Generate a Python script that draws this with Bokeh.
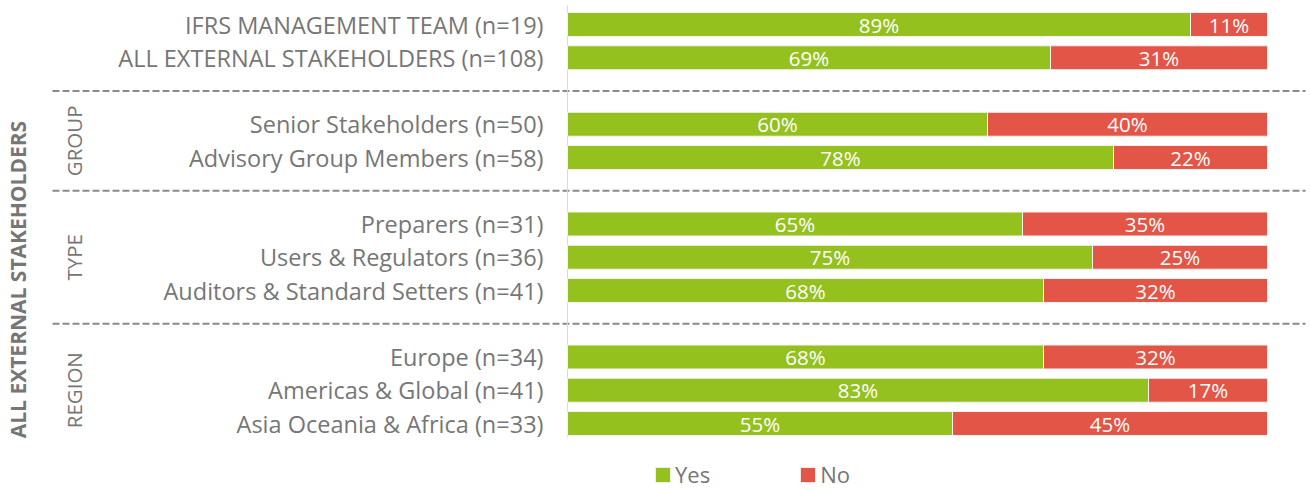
import math
from bokeh.plotting import figure
from bokeh.models import Range1d, ColumnDataSource, Legend, LegendItem
from bokeh.core.properties import value
from bokeh.embed import file_html
from bokeh.resources import INLINE

# ---- data ----
categories = [
    "IFRS MANAGEMENT TEAM (n=19)",
    "ALL EXTERNAL STAKEHOLDERS (n=108)",
    "Senior Stakeholders (n=50)",
    "Advisory Group Members (n=58)",
    "Preparers (n=31)",
    "Users & Regulators (n=36)",
    "Auditors & Standard Setters (n=41)",
    "Europe (n=34)",
    "Americas & Global (n=41)",
    "Asia Oceania & Africa (n=33)",
]
yes_pct = [89, 69, 60, 78, 65, 75, 68, 68, 83, 55]
no_pct = [11, 31, 40, 22, 35, 25, 32, 32, 17, 45]
group_names = ["", "GROUP", "TYPE", "REGION"]
group_sizes = [2, 2, 3, 3]
outer_label = "ALL EXTERNAL STAKEHOLDERS"
series_names = ["Yes", "No"]

GREEN = "#95C11F"
RED = "#E35546"
GRAY = "#767676"
FONT = "Open Sans"

# ---- layout: slots with a blank slot between groups ----
slots = []
gap_slots = []
group_centers = []
s = 0
for gi, n in enumerate(group_sizes):
    if gi > 0:
        gap_slots.append(s)
        s += 1
    members = list(range(s, s + n))
    slots.extend(members)
    group_centers.append(sum(members) / n)
    s += n

W, H = 1310, 489
PX_PER_PCT = 7.0
X0 = 567.0
ROW = 33.25
Y0 = 24.0

x_start = -X0 / PX_PER_PCT
x_end = x_start + W / PX_PER_PCT
y_top = -Y0 / ROW
y_bottom = y_top + H / ROW

def px_to_x(px):
    return (px - X0) / PX_PER_PCT

p = figure(width=W, height=H, output_backend="svg", toolbar_location=None,
           x_range=Range1d(x_start, x_end), y_range=Range1d(y_bottom, y_top),
           min_border=0, min_border_left=0, min_border_right=0,
           min_border_top=0, min_border_bottom=0)
p.axis.visible = False
p.grid.visible = False
p.outline_line_color = None
p.background_fill_color = "white"

src = ColumnDataSource(dict(
    y=slots, yes=yes_pct, no=no_pct, cat=categories,
    yes_lbl=[f"{v}%" for v in yes_pct], no_lbl=[f"{v}%" for v in no_pct],
    yes_mid=[v / 2 for v in yes_pct],
    no_mid=[a + b / 2 for a, b in zip(yes_pct, no_pct)],
    total=[a + b for a, b in zip(yes_pct, no_pct)],
))

# dashed separators
for g in gap_slots:
    p.segment(x0=px_to_x(52), x1=px_to_x(1305), y0=g, y1=g,
              line_color="#8a8a8a", line_width=2, line_dash="7 3")

# vertical axis line
p.segment(x0=0, x1=0, y0=-0.57, y1=12.42, line_color="#d9d9d9", line_width=1)

bh = 0.72
r_yes = p.hbar(y="y", left=0, right="yes", height=bh, source=src,
               fill_color=GREEN, line_color="#f2f2f2", line_width=1)
r_no = p.hbar(y="y", left="yes", right="total", height=bh, source=src,
              fill_color=RED, line_color="#f2f2f2", line_width=1)

p.text(x="yes_mid", y="y", text="yes_lbl", source=src, text_color="white",
       text_font=value(FONT), text_font_size="20.5px", text_align="center",
       text_baseline="middle")
p.text(x="no_mid", y="y", text="no_lbl", source=src, text_color="white",
       text_font=value(FONT), text_font_size="20.5px", text_align="center",
       text_baseline="middle")

# category labels
p.text(x=px_to_x(543), y="y", text="cat", source=src, text_color=GRAY,
       text_font=value(FONT), text_font_size="23.5px", text_align="right",
       text_baseline="middle")

# group labels (rotated)
gsrc = ColumnDataSource(dict(
    y=[c for c, n in zip(group_centers, group_names) if n],
    t=[n for n in group_names if n]))
p.text(x=px_to_x(73), y="y", text="t", source=gsrc,
       angle=math.pi / 2, text_color=GRAY, text_font=value(FONT),
       text_font_size="20.5px", text_align="center", text_baseline="middle")

# outer label
outer_y = (group_centers[1] + group_centers[-1]) / 2 + 0.42
p.text(x=[px_to_x(17)], y=[outer_y], text=[outer_label],
       angle=math.pi / 2, text_color=GRAY, text_font=value(FONT),
       text_font_style="bold", text_font_size="21px", text_align="center",
       text_baseline="middle")

legend = Legend(items=[LegendItem(label=series_names[0], renderers=[r_yes]),
                       LegendItem(label=series_names[1], renderers=[r_no])],
                orientation="horizontal", location=(653, 0),
                glyph_width=19, glyph_height=19, label_standoff=3,
                spacing=88, padding=0, margin=0,
                label_text_font=FONT, label_text_font_size="22px",
                label_text_color=GRAY, border_line_alpha=0,
                background_fill_alpha=0)
p.add_layout(legend)

open("out.html", "w").write(file_html(p, INLINE))
